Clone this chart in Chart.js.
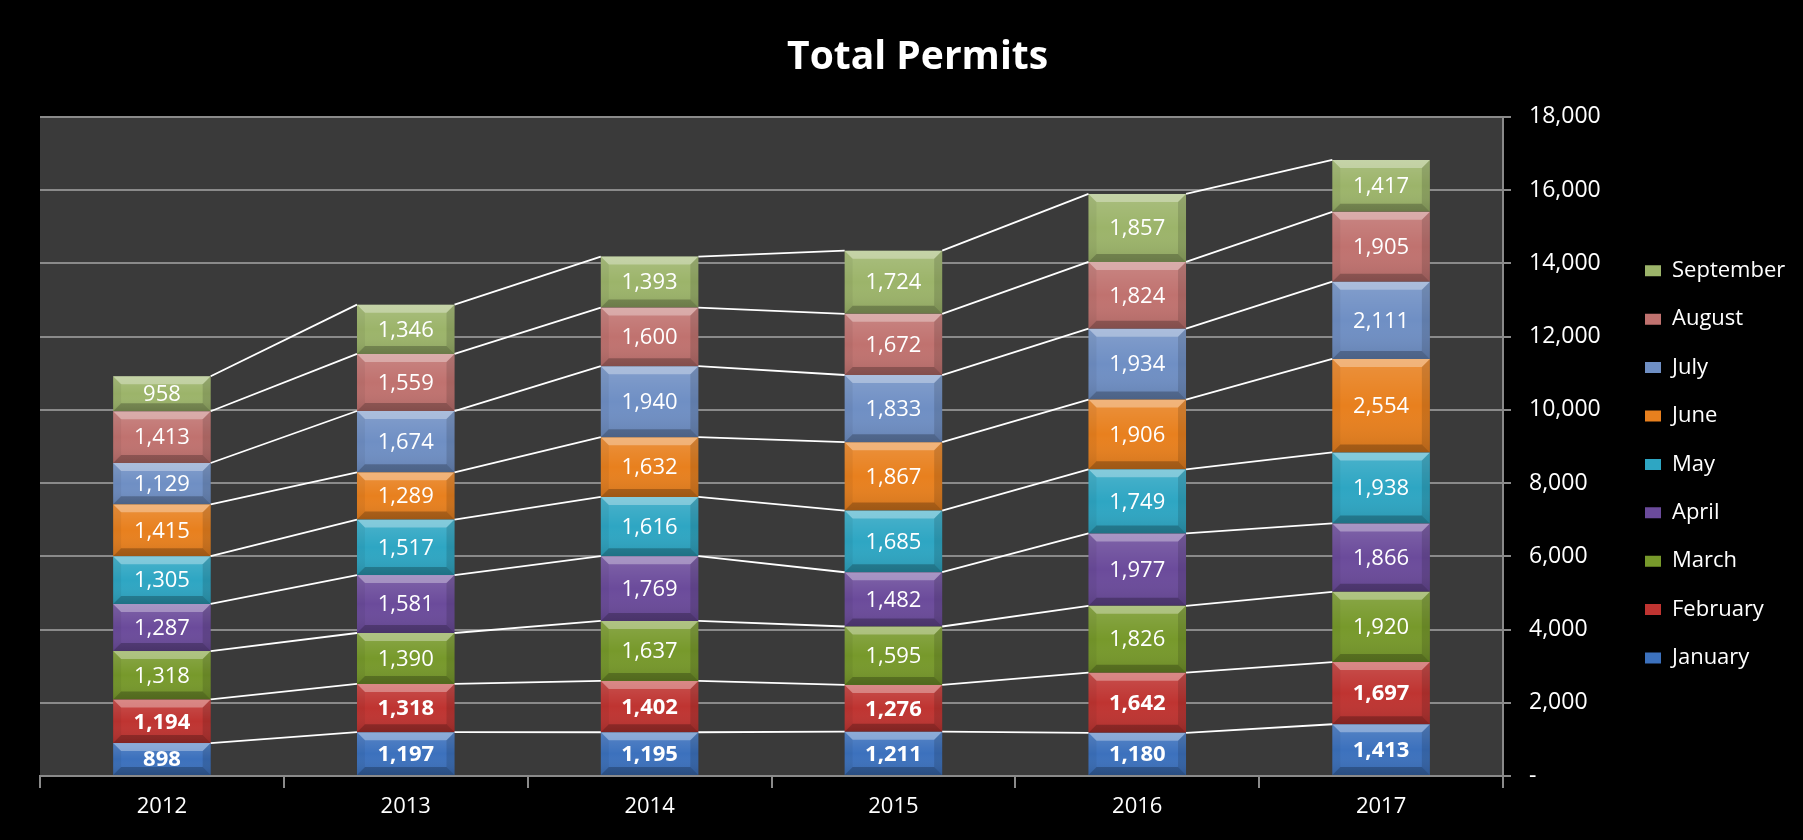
<!DOCTYPE html>
<html>
<head>
<meta charset="utf-8">
<title>Total Permits</title>
<script src="https://cdn.jsdelivr.net/npm/chart.js@4.4.1/dist/chart.umd.min.js"></script>
<style>
  html, body { margin: 0; padding: 0; background: #000; }
  #permitsChart { display: block; }
</style>
</head>
<body>
<canvas id="permitsChart" width="1803" height="840"></canvas>
<script>
// --- data ---
const years = ['2012', '2013', '2014', '2015', '2016', '2017'];
const months = ['January', 'February', 'March', 'April', 'May', 'June', 'July', 'August', 'September'];

const january   = [898, 1197, 1195, 1211, 1180, 1413];
const february  = [1194, 1318, 1402, 1276, 1642, 1697];
const march     = [1318, 1390, 1637, 1595, 1826, 1920];
const april     = [1287, 1581, 1769, 1482, 1977, 1866];
const may       = [1305, 1517, 1616, 1685, 1749, 1938];
const june      = [1415, 1289, 1632, 1867, 1906, 2554];
const july      = [1129, 1674, 1940, 1833, 1934, 2111];
const august    = [1413, 1559, 1600, 1672, 1824, 1905];
const september = [958, 1346, 1393, 1724, 1857, 1417];

const yMin = 0;
const yMax = 18000;
const yStep = 2000;

// --- styles ---
const monthColors = ['#3c71bd', '#bf3431', '#77992b', '#6b4b9b', '#2ea6c3', '#e8801e', '#6f8fc4', '#c0726f', '#9cb46a'];
const boldLabels = [true, true, false, false, false, false, false, false, false];
const fontFamily = "'Open Sans', sans-serif";
const gridColor = '#8a8a8a';
const plotColor = '#3a3a3a';

const seriesValues = [january, february, march, april, may, june, july, august, september];

Chart.defaults.font.family = fontFamily;
Chart.defaults.color = '#ffffff';

// legend is pushed so its boxes start at x=1645, plot right edge at 1503
const legendFont = 22;
const legendPad = 26.4;
const legendBox = 16;
const measure = document.createElement('canvas').getContext('2d');
measure.font = legendFont + 'px ' + fontFamily;
const textW = Math.max(...months.map(m => measure.measureText(m).width));
const legendWidth = legendPad + legendBox + legendFont / 2 + textW + 10;
const legendLeft = 1645 - legendPad;
const padRight = 1803 - legendLeft - legendWidth;
const yAxisWidth = legendLeft - 1503;

const fmt = v => v.toLocaleString('en-US');

// dark plot background
const plotBackground = {
    id: 'plotBackground',
    beforeDraw(chart) {
        const { ctx, chartArea: a } = chart;
        ctx.save();
        ctx.fillStyle = '#000';
        ctx.fillRect(0, 0, chart.width, chart.height);
        ctx.fillStyle = plotColor;
        ctx.fillRect(a.left, a.top, a.right - a.left, a.bottom - a.top);
        ctx.restore();
    }
};

function barBox(el) {
    const p = el.getProps(['x', 'y', 'base', 'width'], true);
    return {
        left: p.x - p.width / 2,
        right: p.x + p.width / 2,
        top: Math.min(p.y, p.base),
        bottom: Math.max(p.y, p.base),
        cx: p.x
    };
}

function poly(ctx, pts, fill) {
    ctx.beginPath();
    ctx.moveTo(pts[0][0], pts[0][1]);
    for (let i = 1; i < pts.length; i++) ctx.lineTo(pts[i][0], pts[i][1]);
    ctx.closePath();
    ctx.fillStyle = fill;
    ctx.fill();
}

// bevel shading on every segment
const bevel = {
    id: 'bevel',
    afterDatasetsDraw(chart) {
        const ctx = chart.ctx;
        ctx.save();
        chart.data.datasets.forEach((ds, d) => {
            chart.getDatasetMeta(d).data.forEach(el => {
                const b = barBox(el);
                const s = Math.min(8, (b.bottom - b.top) / 2);
                const g = ctx.createLinearGradient(0, b.top, 0, b.bottom);
                g.addColorStop(0, 'rgba(255,255,255,0.14)');
                g.addColorStop(0.5, 'rgba(255,255,255,0)');
                g.addColorStop(1, 'rgba(0,0,0,0.1)');
                ctx.fillStyle = g;
                ctx.fillRect(b.left, b.top, b.right - b.left, b.bottom - b.top);
                poly(ctx, [[b.left, b.top], [b.right, b.top], [b.right - s, b.top + s], [b.left + s, b.top + s]], 'rgba(255,255,255,0.32)');
                poly(ctx, [[b.left, b.bottom], [b.right, b.bottom], [b.right - s, b.bottom - s], [b.left + s, b.bottom - s]], 'rgba(0,0,0,0.24)');
                poly(ctx, [[b.left, b.top], [b.left + s, b.top + s], [b.left + s, b.bottom - s], [b.left, b.bottom]], 'rgba(0,0,0,0.05)');
                poly(ctx, [[b.right, b.top], [b.right - s, b.top + s], [b.right - s, b.bottom - s], [b.right, b.bottom]], 'rgba(0,0,0,0.13)');
            });
        });
        ctx.restore();
    }
};

// white series lines joining the top of each month from bar to bar
const seriesLines = {
    id: 'seriesLines',
    afterDatasetsDraw(chart) {
        const ctx = chart.ctx;
        ctx.save();
        ctx.strokeStyle = '#ffffff';
        ctx.lineWidth = 1.8;
        chart.data.datasets.forEach((ds, d) => {
            const bars = chart.getDatasetMeta(d).data;
            for (let i = 0; i < bars.length - 1; i++) {
                const a = barBox(bars[i]);
                const b = barBox(bars[i + 1]);
                ctx.beginPath();
                ctx.moveTo(a.right, a.top);
                ctx.lineTo(b.left, b.top);
                ctx.stroke();
            }
        });
        ctx.restore();
    }
};

// value labels in the middle of each segment
const valueLabels = {
    id: 'valueLabels',
    afterDatasetsDraw(chart) {
        const ctx = chart.ctx;
        ctx.save();
        ctx.fillStyle = '#ffffff';
        ctx.textAlign = 'center';
        ctx.textBaseline = 'middle';
        chart.data.datasets.forEach((ds, d) => {
            ctx.font = (boldLabels[d] ? 'bold ' : '') + '22px ' + fontFamily;
            chart.getDatasetMeta(d).data.forEach((el, i) => {
                const b = barBox(el);
                ctx.fillText(fmt(ds.data[i]), b.cx, (b.top + b.bottom) / 2 + 1);
            });
        });
        ctx.restore();
    }
};

const ctx = document.getElementById('permitsChart').getContext('2d');
new Chart(ctx, {
    type: 'bar',
    data: {
        labels: years,
        datasets: months.map((m, i) => ({
            label: m,
            data: seriesValues[i],
            backgroundColor: monthColors[i],
            borderWidth: 0,
            categoryPercentage: 1.0,
            barPercentage: 0.4
        }))
    },
    options: {
        responsive: false,
        devicePixelRatio: 1,
        animation: false,
        layout: { padding: { left: 40, right: padRight, top: 0, bottom: 0 } },
        plugins: {
            title: {
                display: true,
                text: 'Total Permits',
                color: '#ffffff',
                font: { size: 39, weight: 'bold' },
                padding: { top: 34, bottom: 36 }
            },
            legend: {
                position: 'right',
                align: 'start',
                reverse: true,
                title: { display: true, text: '', font: { size: 12 }, padding: { top: 219, bottom: 0 } },
                labels: {
                    color: '#ffffff',
                    font: { size: legendFont },
                    boxWidth: legendBox,
                    boxHeight: 11,
                    padding: legendPad
                }
            },
            tooltip: { enabled: false }
        },
        scales: {
            x: {
                stacked: true,
                ticks: { color: '#ffffff', font: { size: 22 }, padding: 6 },
                grid: { offset: true, drawOnChartArea: false, color: gridColor, lineWidth: 2, tickLength: 12 },
                border: { display: true, color: gridColor, width: 2 },
                afterFit: s => { s.height = 64; }
            },
            y: {
                stacked: true,
                position: 'right',
                min: yMin,
                max: yMax,
                ticks: {
                    stepSize: yStep,
                    color: '#ffffff',
                    font: { size: 23 },
                    padding: 18,
                    callback: v => v === 0 ? '-' : fmt(v)
                },
                grid: { color: gridColor, lineWidth: 2, tickLength: 8 },
                border: { display: true, color: gridColor, width: 2 },
                afterFit: s => { s.width = yAxisWidth; }
            }
        }
    },
    plugins: [plotBackground, bevel, seriesLines, valueLabels]
});
</script>
</body>
</html>
